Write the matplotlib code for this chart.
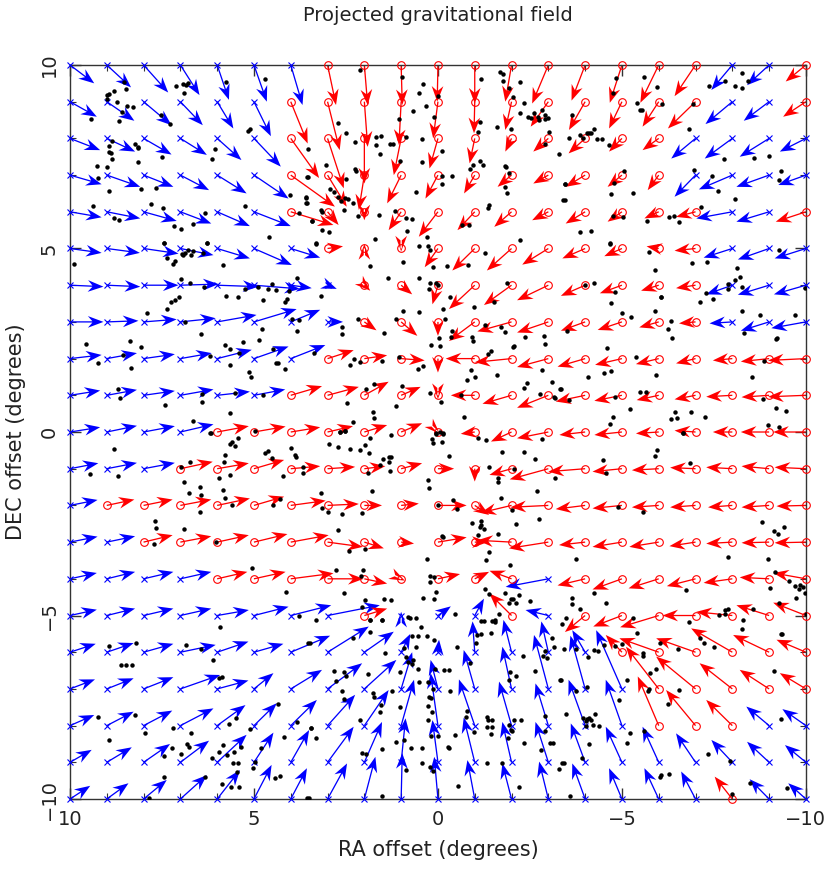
import numpy as np
import matplotlib
matplotlib.use("Agg")
import matplotlib.pyplot as plt
from matplotlib.ticker import MultipleLocator

# grid of field sample points: RA 10 -> -10 (columns), DEC 10 -> -10 (rows)
ra_grid = np.arange(10, -11, -1)
dec_grid = np.arange(10, -11, -1)

# arrow components, in degrees.
# step_right = step toward the right of the plot (RA decreasing), step_up = DEC step
step_right = [
    [0.66, 0.66, 0.67, 0.52, 0.32, 0.35, 0.32, 0.23, 0.09, 0.03, -0.02, 0.0, -0.17, -0.44, -0.37, -0.33, -0.5, -0.57, -0.57, -0.6, -0.55],
    [0.73, 0.75, 0.76, 0.61, 0.44, 0.46, 0.46, 0.33, 0.09, -0.06, -0.13, -0.02, -0.17, -0.48, -0.44, -0.35, -0.44, -0.75, -0.73, -0.69, -0.62],
    [0.82, 0.77, 0.76, 0.72, 0.66, 0.73, 0.77, 0.44, 0.0, -0.2, -0.23, -0.14, -0.17, -0.41, -0.45, -0.35, -0.44, -0.66, -0.75, -0.8, -0.71],
    [0.86, 0.91, 0.81, 0.78, 0.8, 0.94, 1.2, 0.52, -0.15, -0.38, -0.34, -0.29, -0.38, -0.41, -0.53, -0.39, -0.3, -0.57, -0.91, -0.89, -0.75],
    [0.86, 0.91, 0.9, 0.84, 0.89, 1.0, 1.16, 0.3, 0.0, -0.34, -0.52, -0.47, -0.47, -0.44, -0.53, -0.39, -0.39, -0.53, -0.98, -0.89, -0.82],
    [0.86, 0.9, 0.95, 0.9, 0.89, 1.03, 0.8, 0.42, 0.0, 0.0, -0.36, -0.61, -0.67, -0.71, -0.62, -0.48, -0.33, -0.57, -0.78, -0.85, -0.85],
    [0.91, 0.91, 0.95, 1.04, 1.12, 1.25, 0.57, 0.25, 0.16, 0.3, -0.15, -0.7, -0.75, -0.85, -0.66, -0.6, -0.48, -0.53, -0.71, -0.85, -0.87],
    [0.91, 0.86, 0.9, 0.96, 1.07, 1.16, 0.8, 0.42, 0.33, 0.44, 0.0, -0.7, -0.93, -0.85, -0.66, -0.66, -0.53, -0.45, -0.62, -0.77, -0.94],
    [0.86, 0.82, 0.85, 0.85, 0.94, 0.94, 0.94, 0.71, 0.62, 0.64, 0.0, -0.79, -1.0, -0.85, -0.75, -0.73, -0.62, -0.53, -0.53, -0.77, -1.03],
    [0.82, 0.82, 0.85, 0.9, 0.89, 0.85, 0.85, 0.85, 0.66, 0.53, 0.0, -0.65, -0.79, -0.85, -0.8, -0.75, -0.6, -0.57, -0.71, -0.75, -1.03],
    [0.82, 0.82, 0.85, 0.9, 0.86, 0.86, 0.8, 0.69, 0.62, 0.57, 0.05, -0.38, -0.56, -0.85, -0.7, -0.75, -0.62, -0.57, -0.53, -0.77, -0.89],
    [0.77, 0.82, 0.85, 0.88, 0.86, 0.82, 0.8, 0.75, 0.57, 0.57, 0.44, 0.0, -0.6, -1.05, -1.0, -0.8, -0.73, -0.69, -0.71, -0.75, -0.85],
    [0.75, 0.75, 0.79, 0.84, 0.89, 0.82, 0.95, 0.85, 0.48, 0.48, 0.78, 0.39, -0.84, -1.03, -0.8, -0.8, -0.73, -0.69, -0.66, -0.75, -0.8],
    [0.75, 0.77, 0.79, 0.84, 0.86, 0.91, 1.03, 0.96, 0.53, 0.35, 0.78, 0.35, -0.93, -1.07, -0.71, -0.8, -0.8, -0.71, -0.71, -0.75, -0.85],
    [0.73, 0.77, 0.81, 0.84, 0.82, 0.86, 1.16, 0.98, 0.62, 0.1, 0.6, 0.39, -0.6, -1.16, -0.75, -0.8, -0.82, -0.78, -0.78, -0.8, -0.89],
    [0.73, 0.77, 0.81, 0.84, 0.86, 0.94, 1.1, 1.42, 0.62, 0.0, 0.35, 0.25, -0.6, -0.62, -0.55, -0.78, -1.05, -0.9, -0.98, -0.89, -0.89],
    [0.7, 0.73, 0.81, 0.96, 0.85, 0.8, 1.07, 1.12, 0.8, 0.25, 0.03, -0.06, -0.22, -0.19, -0.35, -0.44, -1.07, -1.07, -1.12, -0.98, -0.8],
    [0.68, 0.73, 0.81, 1.08, 0.85, 0.53, 0.85, 0.94, 0.87, 0.3, -0.2, -0.3, -0.25, -0.39, -0.4, -0.7, -0.89, -1.07, -0.89, -0.8, -0.71],
    [0.66, 0.73, 0.78, 0.9, 0.77, 0.62, 0.71, 0.75, 0.66, 0.35, -0.2, -0.43, -0.34, -0.35, -0.45, -0.44, -0.57, -0.8, -0.71, -0.62, -0.64],
    [0.59, 0.68, 0.72, 0.78, 0.8, 0.53, 0.5, 0.71, 0.48, 0.12, -0.15, -0.3, -0.25, -0.35, -0.39, -0.44, -0.44, -0.53, -0.57, -0.6, -0.57],
    [0.55, 0.59, 0.63, 0.72, 0.62, 0.48, 0.44, 0.53, 0.3, 0.03, -0.1, -0.2, -0.25, -0.25, -0.35, -0.35, -0.39, -0.39, -0.48, -0.53, -0.48],
]
step_up = [
    [-0.5, -0.61, -0.75, -0.82, -0.95, -1.0, -1.09, -1.09, -1.09, -1.09, -1.0, -1.05, -1.0, -1.05, -0.97, -1.03, -1.03, -0.85, -0.68, -0.55, -0.45],
    [-0.41, -0.52, -0.64, -0.64, -0.73, -0.94, -1.14, -1.32, -1.23, -1.18, -1.0, -0.86, -0.77, -0.68, -0.77, -0.73, -0.68, -0.73, -0.61, -0.52, -0.41],
    [-0.32, -0.36, -0.44, -0.45, -0.59, -0.77, -1.08, -1.36, -1.23, -1.0, -0.82, -0.68, -0.36, -0.36, -0.41, -0.36, -0.32, -0.55, -0.55, -0.5, -0.36],
    [-0.25, -0.32, -0.32, -0.41, -0.5, -0.64, -0.86, -0.86, -0.95, -0.77, -0.64, -0.5, -0.32, -0.23, -0.32, -0.32, -0.41, -0.59, -0.39, -0.32, -0.27],
    [-0.15, -0.18, -0.25, -0.32, -0.39, -0.39, -0.36, -0.36, -0.23, -0.5, -0.68, -0.5, -0.41, -0.23, -0.32, -0.27, -0.18, -0.14, -0.18, -0.27, -0.27],
    [-0.12, -0.12, -0.14, -0.18, -0.27, -0.45, -0.25, 0.06, 0.12, -0.08, -0.51, -0.6, -0.6, -0.44, -0.27, -0.21, 0.06, -0.06, -0.25, -0.3, -0.27],
    [-0.04, -0.04, 0.0, 0.03, -0.04, -0.1, -0.08, -0.1, -0.15, -0.25, -0.52, -0.65, -0.54, -0.41, -0.29, -0.22, -0.15, -0.08, -0.25, -0.26, -0.25],
    [0.0, 0.03, 0.07, 0.1, 0.19, 0.35, 0.33, 0.0, -0.23, -0.38, -0.38, -0.52, -0.26, -0.29, -0.24, -0.22, -0.15, -0.04, -0.04, -0.24, -0.17],
    [0.1, 0.15, 0.12, 0.15, 0.24, 0.33, 0.37, 0.23, 0.09, -0.05, -0.38, 0.0, -0.1, -0.23, -0.22, -0.17, -0.15, -0.13, -0.05, -0.08, -0.05],
    [0.13, 0.15, 0.12, 0.16, 0.1, 0.16, 0.25, 0.23, 0.37, 0.23, -0.1, 0.0, -0.23, -0.34, -0.17, -0.15, -0.13, -0.11, -0.04, -0.05, -0.04],
    [0.13, 0.17, 0.16, 0.21, 0.16, 0.15, 0.13, 0.16, 0.19, 0.24, -0.05, -0.05, -0.26, -0.17, -0.08, -0.08, -0.04, 0.04, 0.0, 0.0, 0.0],
    [0.15, 0.16, 0.16, 0.19, 0.15, 0.24, 0.07, 0.05, 0.07, 0.15, 0.0, -0.35, -0.17, -0.29, -0.08, -0.08, -0.04, 0.03, 0.04, 0.07, 0.04],
    [0.15, 0.16, 0.16, 0.16, 0.19, 0.24, 0.13, 0.04, 0.0, 0.05, 0.0, -0.26, -0.2, -0.05, -0.1, -0.08, -0.05, -0.05, -0.05, -0.05, -0.02],
    [0.15, 0.16, 0.19, 0.16, 0.19, 0.22, 0.19, -0.13, -0.17, -0.04, 0.13, 0.0, 0.05, -0.17, -0.08, -0.13, -0.13, -0.11, -0.04, -0.02, -0.02],
    [0.16, 0.19, 0.19, 0.19, 0.19, 0.19, 0.15, 0.0, -0.13, -0.05, 0.13, 0.19, 0.22, -0.22, -0.18, -0.29, -0.26, -0.2, -0.11, 0.04, 0.16],
    [0.16, 0.19, 0.19, 0.19, 0.15, 0.24, 0.28, 0.28, 0.19, 0.1, 0.25, 0.46, 0.6, 0.15, -0.45, -0.3, -0.32, 0.0, 0.1, 0.28, 0.35],
    [0.23, 0.25, 0.23, 0.2, 0.29, 0.23, 0.45, 0.7, 0.56, 0.5, 0.34, 0.84, 0.88, 0.84, 0.6, 0.47, 0.38, 0.38, 0.65, 0.47, 0.34],
    [0.26, 0.29, 0.32, 0.38, 0.23, 0.43, 0.52, 0.7, 0.79, 1.0, 0.79, 1.06, 1.15, 1.47, 1.45, 1.6, 1.15, 0.88, 0.7, 0.52, 0.43],
    [0.29, 0.38, 0.41, 0.47, 0.56, 0.61, 0.7, 0.84, 0.97, 1.25, 1.43, 1.26, 1.2, 1.15, 1.25, 1.25, 1.34, 0.97, 0.7, 0.52, 0.45],
    [0.34, 0.41, 0.5, 0.59, 0.75, 0.81, 0.88, 0.97, 1.1, 1.2, 1.15, 1.22, 1.1, 1.1, 1.06, 0.97, 0.97, 0.79, 0.61, 0.56, 0.47],
    [0.36, 0.43, 0.52, 0.65, 0.79, 0.93, 0.84, 0.97, 1.15, 1.25, 1.15, 1.06, 0.97, 1.02, 0.97, 0.84, 0.84, 0.75, 0.61, 0.54, 0.43],
]
# r = circle marker / red arrow, b = cross marker / blue arrow
sense = [
    "bbbbbbbrrrrrrrrrrrbbr",
    "bbbbbbrrrrrrrrrrrrbbr",
    "bbbbbbrrrrrrrrrrrbbbb",
    "bbbbbbrrrrrrrrrrrbbbb",
    "bbbbbbrrrrrrrrrrrrbbr",
    "bbbbbbbrrrrrrrrrrrbbb",
    "bbbbbbbbrrrrrrrrrrbbb",
    "bbbbbbbbrrrrrrrrrrbbb",
    "bbbbbbbrrrrrrrrrrrrrr",
    "bbbbbbrrrrrrrrrrrrrrr",
    "bbbbrrrrrrrrrrrrrrrrr",
    "bbbrrrrrrrrrrrrrrrrrr",
    "brrrrrrrrrrrrrrrrrrrr",
    "bbrrrrrrrrrrrrrrrrrrr",
    "bbbbrrrrrrrrrbrrrrrrr",
    "bbbbbbbbrbbbrbrrrrrrr",
    "bbbbbbbbbbbbbbbrrrrrr",
    "bbbbbbbbbbbbbbbbrrrrr",
    "bbbbbbbbbbbbbbbbrrrbb",
    "bbbbbbbbbbbbbbbbbbbbb",
    "bbbbbbbbbbbbbbbbbbrbb",
]

# galaxy positions (RA offset, DEC offset), degrees
gal_ra = [
    8.52, 8.47, 8.79, 8.95, 9.0, 9.0, 8.73, 8.44, 8.3, 8.59, 8.68, 9.43, 7.12, 6.93, 6.86, 6.79, 6.91, 5.75, 4.7, 7.52,
    7.29, 5.15, 5.12, 8.86, 8.95, 8.23, 8.14, 8.15, 8.95, 8.88, 8.85, 9.27, 9.0, 8.14, 6.06, 6.14, 7.5, 9.25, 8.93, 8.07,
    7.65, 3.54, 3.52, 3.59, 3.55, 4.03, 9.38, 7.81, 7.48, 5.25, 6.32, 3.77, 3.41, 8.79, 8.68, 7.16, 6.97, 6.65, 4.59, 7.44,
    6.27,
    2.11, 0.99, 0.4, 0.51, 0.01, 0.33, 0.67, 1.05, 0.1, 2.72, 2.51, 2.25, 1.69, 1.54, 1.69, 1.3, 1.22, 0.87, 0.43, 1.57,
    1.02, 0.43, -0.1, 3.05, 2.25, 2.22, 2.49, 3.55, 2.92, 2.83, 2.72, 2.63, 2.52, 2.45, 2.31, 3.58, 3.58, 3.17, 3.15, 3.43,
    3.15, 2.97, 2.55, 2.17, 1.61, 1.17, 0.87, 0.7, 0.84, 0.59, -0.1, -0.12, -0.37, -1.15, -1.22, -0.95, -0.87, -1.83, -1.85, -1.81,
    -1.89, -1.39, -1.35, -0.65, -0.85, -1.69, -1.78, -1.17, -1.78, -2.22, -1.94, -2.03, -2.33, -2.22, -2.6, -2.46, -2.53, -2.72, -2.75, -2.82,
    -2.92, -2.99, -2.92, -1.15, -1.1, -1.6, -1.99, -3.01, -2.9, -3.28, -1.94, -2.22, 0.29, 1.7, 3.31, -3.44, -3.44,
    -8.27, -7.81, -7.36, -8.08, -8.25, -8.43, -4.85, -4.76, -5.59, -5.95, -5.4, -5.5, -5.54, -6.08, -6.93, -3.63, -6.81, -3.56, -3.86, -3.95,
    -4.04, -4.11, -4.17, -4.25, -4.31, -4.47, -4.65, -7.76, -8.59, -9.0, -6.95, -7.45, -7.61, -8.06, -9.31, -9.26, -5.05, -4.79, -4.7, -5.29,
    -3.45, -3.4, -7.14, -6.29, -6.41, -6.55, -4.77, -5.02, -5.67, -3.86, -4.17, -4.67,
    9.88, 7.44, 6.27, 7.36, 7.21, 7.15, 6.95, 6.94, 6.88, 6.8, 6.66, 6.71, 6.39, 5.83, 6.97, 6.75, 6.36, 5.75, 5.44, 5.25,
    4.9, 4.52, 4.62, 4.41, 4.05, 3.82, 4.75, 4.17, 4.11, 7.03, 7.14, 7.25, 7.35, 7.92, 6.88, 6.44, 4.79, 3.97, 3.77, 3.83,
    4.87, 5.79, 5.66, 5.3, 5.41, 5.65, 5.14, 5.09, 4.48, 4.39, 4.34, 4.16, 3.36, 6.2, 9.56, 9.25, 8.38, 8.07, 8.56, 8.33,
    8.7, 8.65, 7.43, 6.41, 6.41, 5.52, 4.75, 5.66, 6.65, 6.17,
    3.31, 1.85, 0.95, 0.52, 0.26, 0.21, 0.13, -0.24, -0.81, -1.28, 1.35, 0.52, 0.21, 0.04, -0.01, 0.24, -0.33, -0.15, -0.99, -1.51,
    -1.87, 3.19, 0.94, 0.52, -0.19, 1.13, 2.17, 2.61, 2.6, 1.46, -0.37, -0.35, -0.92, -0.95, -0.03, 0.2, -0.06, -1.28, -1.72, -1.81,
    -2.03, -2.07, -1.43, -1.36, -2.37, -2.87, -2.9, 1.06, 2.28, 2.4, 2.12, 1.51, 0.4, 0.55, -0.9, -0.79, -1.01, -1.6, -2.83, -3.1,
    -2.34, -2.43, -3.35, -2.78, -3.15, -3.19, 1.96, 1.75, 0.99, 0.22, -0.08, -0.63, 2.46, 1.15, 1.76, 1.75, -0.71, 2.31, 2.65, 2.52,
    0.05, -0.15,
    -4.67, -5.73, -6.9, -7.32, -9.26, -5.9, -8.13, -8.2, -8.08, -7.88, -7.88, -8.26, -7.29, -7.47, -7.13, -4.0, -4.25, -4.81, -4.7, -6.05,
    -6.07, -5.9, -8.27, -8.76, -9.7, -9.98, -5.0, -5.24, -6.33, -6.25, -6.37, -8.31, -9.22, -9.2, -3.5, -4.59, -5.38, -4.5, -4.7, -4.09,
    -5.92, -8.86, -8.53, -3.31, -3.55, -4.82, -5.49, -5.65, -5.23, -4.77, -4.67, -6.44, -6.88, -6.33, -6.49, -7.27, -8.83, -9.18, -9.45, -8.97,
    -9.26, -6.67,
    6.2, 8.81, 9.45, 8.7, 6.97, 6.75, 5.64, 5.59, 5.52, 5.43, 5.8, 5.82, 5.96, 5.66, 6.91, 6.77, 6.46, 6.45, 6.46, 5.84,
    5.79, 5.61, 4.7, 4.61, 4.5, 4.21, 3.98, 3.89, 3.85, 3.68, 3.68, 4.48, 4.3, 7.68, 7.65, 7.72, 6.91, 6.04, 5.06, 4.14,
    3.77, 4.97,
    2.65, 2.52, 1.85, 1.28, 2.97, 2.72, 2.38, 2.13, 1.97, 1.87, 1.49, 1.34, 1.28, 1.34, 1.58, 1.9, 1.29, 0.15, 0.14, -0.1,
    0.06, -0.05, -0.13, -0.31, -1.1, -1.31, -1.74, -2.33, -2.63, -2.83, -3.17, -1.4, -1.62, -1.63, -2.08, 0.26, 0.24, 1.78, 3.19, 3.15,
    2.99, 2.61, 2.06, -0.42, -0.52, -0.01, -1.72, -2.01, -2.7, -2.74, -0.92, -1.16, -1.17, -1.25, -1.15, -1.1, -1.63, -2.11, 2.72, 2.42,
    1.99, -0.12, -0.15, 0.31, -1.4, -1.31, -1.96, 2.77, 2.03, 2.1, 0.22, 0.11, 0.21, 0.06, 0.4, 0.12, 2.54, 1.99, 1.47, 1.28,
    2.06, 1.86, 1.52, 0.81, 0.75, 0.61, -0.46, -1.28, -1.4, -1.83, -1.98, -1.94, -2.05, -2.19, -2.11, -2.51, -1.65, -1.54, -1.26, 3.31,
    -6.67, -4.49, -4.58, -5.95, -5.9, -6.85, -4.88, -5.56, -8.81, -9.14, -9.23, -9.41, -3.75, -7.88, -8.98, -9.16, -9.55, -9.7, -9.82, -9.85,
    -9.91, -9.73, -9.98, -9.03, -6.75, -4.23, -3.64, -3.65, -3.85, -4.56, -3.47, -3.36, -5.29, -6.81, -7.65, -7.79, -7.81, -7.89, -8.29, -8.56,
    -9.26, -9.99,
    8.95, 8.2, 8.61, 8.47, 8.32, 6.84, 6.45, 6.12, 5.91, 5.94, 5.88, 9.23, 8.23, 8.93, 7.95, 7.21, 6.7, 6.82, 6.77, 6.97,
    7.45, 7.23, 5.68, 5.48, 5.11, 5.95, 5.84, 5.74, 5.55, 5.56, 5.44, 5.35, 6.14, 4.82, 4.98, 5.03, 4.36, 4.19, 3.84, 3.45,
    3.49, 7.44, 6.32, 5.86, 5.62, 5.4, 5.45, 4.43, 4.29, 7.84, 3.5,
    3.54, 2.31, 1.85, 1.52, 1.85, 1.45, 0.7, 0.55, 0.47, 0.31, 0.1, 0.92, 0.61, 0.87, 0.81, 0.7, 0.67, 0.55, 1.02, -0.51,
    -0.87, -1.04, -1.07, -1.17, -1.44, -1.16, -1.46, -1.55, -1.96, -1.94, -2.12, -2.31, -2.65, -2.85, -2.9, -2.96, -3.1, -3.15, -3.35, 2.83,
    2.54, 2.49, 2.76, 1.9, 2.61, 2.54, 1.76, 1.74, 1.26, 1.55, 1.58, 1.02, 0.52, 0.26, 0.13, -0.17, -0.3, -0.33, 0.08, 0.25,
    0.19, 0.26, 0.17, 0.26, 3.46, 3.31, 2.13, 1.15, 0.92, 0.72, 0.43, 0.19, -0.01, -0.45, -0.28, -0.3, 2.06, 1.96, 1.52, 0.43,
    0.22, 0.13, 0.88, -0.8, -0.75, -0.99, -1.33, -1.37, -1.46, -1.33, -1.46, -1.45, -2.08, -2.26, -1.92, -2.01, -1.98, -1.9, -2.35, -2.92,
    -2.92, -3.05, -3.12, -2.81, -1.33, -1.75, -3.42, -3.28, -0.54, -2.21, 1.52, 3.55,
    -3.43, -3.75, -4.25, -4.36, -4.52, -4.82, -5.0, -5.4, -5.56, -5.58, -6.04, -6.52, -7.11, -7.23, -7.5, -8.27, -9.32, -9.35, -4.09, -5.93,
    -5.75, -5.73, -5.7, -5.15, -4.93, -6.25, -6.56, -9.13, -3.75, -4.04, -3.32, -3.49, -3.95, -4.02, -4.06, -4.11, -4.15, -4.27, -4.2, -4.38,
    -4.02, -5.22, -5.61, -5.14, -4.11, -3.91, -3.38, -7.34, -7.95, -6.04, -6.06, -6.29, -8.49, -9.49, -9.32, -8.0, -3.58,
]
gal_dec = [
    9.53, 9.34, 9.29, 9.21, 9.18, 9.06, 8.99, 8.89, 8.85, 8.72, 8.47, 8.53, 9.43, 9.48, 9.45, 9.5, 9.23, 9.54, 9.63, 8.65,
    8.38, 8.21, 8.25, 7.94, 7.8, 7.84, 7.77, 7.74, 7.63, 7.59, 7.45, 7.25, 7.21, 7.35, 7.72, 7.45, 7.48, 6.93, 6.56, 6.63,
    6.66, 7.72, 6.95, 6.38, 6.23, 6.46, 6.16, 6.21, 6.09, 6.15, 5.98, 5.98, 5.75, 5.83, 5.77, 5.62, 5.53, 5.68, 5.3, 5.16,
    5.16,
    9.85, 9.68, 9.47, 9.25, 9.16, 8.89, 8.74, 8.52, 8.59, 8.41, 8.14, 7.9, 8.03, 8.06, 7.82, 7.85, 7.85, 8.05, 7.98, 7.57,
    7.39, 7.37, 7.65, 7.27, 7.16, 7.12, 6.88, 6.94, 6.61, 6.55, 6.41, 6.3, 6.37, 6.35, 6.23, 6.41, 6.23, 6.05, 6.0, 5.75,
    5.5, 5.45, 6.05, 5.88, 5.9, 6.03, 5.82, 5.81, 5.48, 6.55, 6.97, 6.75, 6.98, 7.38, 7.28, 7.27, 7.16, 7.25, 7.21, 6.68,
    6.52, 6.18, 6.09, 5.64, 5.64, 9.81, 9.75, 9.61, 9.57, 9.53, 9.38, 9.14, 8.97, 8.68, 8.68, 8.57, 8.55, 8.57, 8.5, 8.76,
    8.64, 8.55, 8.52, 8.44, 8.18, 8.32, 8.25, 8.18, 7.85, 7.57, 7.06, 5.23, 5.32, 5.25, 5.14, 6.77, 6.32,
    9.77, 9.57, 9.43, 9.43, 9.36, 9.56, 9.64, 9.23, 9.68, 9.41, 8.97, 8.77, 8.77, 8.93, 8.94, 8.64, 8.25, 8.02, 8.09, 8.02,
    8.14, 8.15, 8.16, 8.25, 7.98, 7.97, 7.82, 7.44, 7.47, 7.52, 7.14, 6.97, 6.57, 6.36, 7.11, 6.86, 7.11, 6.79, 6.48, 6.5,
    6.77, 6.32, 6.12, 5.85, 5.88, 5.72, 5.89, 5.86, 5.75, 5.44, 5.47, 5.14,
    4.58, 5.16, 5.16, 4.74, 4.58, 4.67, 4.85, 4.83, 4.87, 4.95, 4.92, 4.83, 4.87, 4.55, 4.16, 4.05, 3.96, 3.71, 3.69, 3.89,
    3.96, 4.03, 3.89, 3.87, 3.83, 4.19, 3.6, 3.54, 3.62, 3.69, 3.6, 3.55, 3.35, 3.25, 3.0, 2.67, 2.82, 3.07, 3.05, 2.76,
    2.51, 2.36, 2.25, 2.44, 2.15, 1.82, 1.63, 1.49, 2.25, 1.89, 1.89, 1.71, 2.15, 2.08, 2.39, 1.87, 2.49, 2.32, 2.09, 1.75,
    1.16, 0.92, 0.73, 1.03, 0.82, 1.05, 1.0, 0.51, 0.31, -0.02,
    5.13, 4.53, 4.62, 5.07, 5.08, 4.95, 4.49, 4.53, 4.55, 4.87, 4.19, 4.19, 4.05, 4.07, 4.01, 3.9, 3.67, 3.35, 3.4, 3.55,
    4.05, 3.71, 3.31, 3.28, 3.08, 3.07, 3.08, 2.85, 2.67, 2.71, 2.75, 2.6, 2.6, 2.49, 2.57, 2.37, 2.33, 2.92, 2.85, 2.72,
    2.31, 2.35, 2.21, 2.13, 2.6, 2.62, 2.39, 2.04, 1.98, 1.83, 1.9, 1.93, 1.8, 1.71, 1.69, 1.42, 1.49, 1.55, 1.69, 1.37,
    1.19, 1.33, 1.16, 1.04, 0.96, 0.92, 1.17, 1.31, 1.24, 1.05, 0.83, 1.0, 0.8, 0.72, 0.55, 0.37, 0.42, 0.28, 0.01, 0.04,
    -0.04, -0.02,
    5.13, 4.9, 4.6, 4.62, 4.95, 4.42, 4.48, 4.22, 4.13, 4.04, 3.9, 3.96, 3.8, 3.62, 3.53, 4.01, 4.05, 3.81, 3.51, 3.69,
    3.67, 3.31, 3.31, 3.18, 3.2, 3.92, 3.24, 3.12, 3.03, 2.8, 2.57, 2.69, 2.55, 2.53, 2.74, 2.3, 2.05, 1.62, 1.66, 1.51,
    1.56, 1.94, 1.5, 1.16, 0.87, 0.95, 1.08, 1.08, 0.62, 0.42, 0.23, 0.54, 0.55, 0.36, 0.37, 0.41, 0.89, 0.66, 0.56, 0.18,
    0.15, -0.02,
    -0.02, -0.46, -1.15, -1.2, -0.95, -0.83, -0.33, -0.26, -0.38, -0.15, -0.64, -0.82, -1.24, -1.17, -1.35, -1.67, -1.51, -1.72, -2.17, -1.58,
    -1.81, -1.99, -0.56, -0.52, -0.72, -1.2, -0.43, -0.63, -0.69, -0.96, -1.13, -1.99, -1.83, -2.43, -2.61, -3.06, -2.65, -2.99, -3.7, -4.35,
    -5.02, 0.04,
    0.0, 0.04, -0.15, -0.08, -0.34, -0.42, -0.47, -0.49, -0.35, -0.56, -0.74, -0.69, -0.69, -0.81, -0.9, -1.13, -1.05, -0.2, -0.31, -0.27,
    -0.05, 0.01, -0.05, -0.65, -0.15, -0.22, -0.54, -0.54, -0.74, -0.2, -1.24, -0.96, -1.24, -1.37, -1.01, -1.31, -1.52, -1.62, -1.67, -2.08,
    -2.17, -2.24, -2.22, -1.85, -2.09, -1.99, -1.79, -2.13, -1.62, -2.38, -2.49, -2.42, -2.54, -2.65, -2.6, -2.81, -2.78, -2.51, -2.67, -3.25,
    -3.19, -2.84, -2.86, -3.47, -3.27, -3.49, -3.61, -3.75, -3.75, -3.92, -3.92, -3.95, -4.08, -4.35, -4.52, -4.56, -4.38, -4.58, -4.55, -4.58,
    -4.78, -5.13, -5.11, -5.04, -5.06, -5.07, -4.95, -4.28, -4.42, -4.38, -4.55, -4.67, -4.54, -4.44, -4.67, -4.6, -4.95, -5.17, -5.15, -5.11,
    -0.04, -0.75, -1.13, -0.49, -0.65, -0.84, -2.05, -2.19, -2.46, -2.69, -2.78, -2.6, -3.46, -3.4, -3.45, -3.82, -4.06, -4.2, -4.28, -4.17,
    -4.22, -4.52, -4.4, -4.25, -4.31, -4.4, -4.52, -4.69, -4.83, -4.65, -5.08, -5.22, -5.08, -5.17, -4.99, -4.96, -4.85, -4.81, -5.13, -4.81,
    -4.65, -4.97,
    -5.83, -5.74, -6.36, -6.36, -6.36, -5.8, -5.91, -6.21, -5.32, -6.71, -6.68, -7.77, -7.7, -8.39, -8.19, -8.07, -8.21, -8.5, -8.57, -8.77,
    -8.83, -8.6, -7.96, -7.8, -8.09, -8.71, -8.53, -8.81, -8.73, -9.03, -9.03, -8.58, -8.87, -8.62, -9.0, -9.15, -7.42, -8.32, -7.91, -8.07,
    -5.75, -9.41, -9.39, -9.6, -9.68, -9.66, -9.25, -9.44, -9.38, -9.98, -9.98,
    -5.75, -5.62, -5.12, -5.12, -5.46, -6.03, -5.55, -5.57, -5.32, -5.55, -5.68, -5.89, -5.86, -6.14, -6.28, -6.32, -6.21, -6.46, -6.53, -5.85,
    -6.3, -5.75, -5.53, -5.51, -5.48, -5.16, -5.16, -5.12, -6.53, -6.75, -6.65, -6.09, -6.5, -6.09, -5.96, -6.16, -5.62, -5.85, -6.75, -6.5,
    -6.53, -6.65, -6.78, -6.59, -7.07, -7.27, -7.1, -7.21, -7.05, -7.44, -7.62, -7.5, -6.8, -6.82, -7.0, -6.48, -6.48, -7.07, -6.45, -7.21,
    -7.24, -7.46, -7.62, -7.86, -8.07, -8.35, -7.86, -8.45, -8.39, -8.62, -8.61, -8.27, -8.28, -8.26, -8.57, -8.62, -8.74, -8.77, -8.65, -9.01,
    -9.12, -9.23, -9.21, -7.59, -7.77, -8.18, -7.77, -7.86, -7.85, -8.05, -8.05, -8.23, -7.85, -7.85, -7.98, -8.15, -8.12, -8.35, -8.48, -7.73,
    -8.15, -8.46, -8.46, -8.66, -9.01, -9.01, -9.03, -9.19, -9.65, -9.66, -9.92, -9.98,
    -5.92, -5.92, -5.94, -5.98, -5.8, -5.83, -5.78, -5.48, -6.03, -6.09, -5.74, -5.92, -5.62, -5.74, -5.85, -5.37, -5.5, -5.5, -6.12, -6.45,
    -6.57, -7.01, -7.05, -6.75, -7.3, -7.41, -7.03, -6.51, -7.05, -6.96, -6.75, -7.68, -7.78, -7.87, -7.83, -7.78, -7.85, -7.69, -7.98, -8.01,
    -8.01, -8.19, -8.15, -8.46, -8.5, -8.89, -9.03, -8.78, -8.96, -9.39, -9.35, -9.32, -9.57, -9.71, -7.83, -9.87, -9.91,
]

RA, DEC = np.meshgrid(ra_grid, dec_grid)
dra = -np.array(step_right)   # RA axis runs right to left
ddec = np.array(step_up)
is_red = np.array([[c == "r" for c in row] for row in sense])
red = "#ff0000"
blue = "#0000ff"
arrow_cols = np.where(is_red, red, blue)

fig = plt.figure(figsize=(8.3, 8.83), dpi=100)
ax = fig.add_axes([0.0843, 0.0951, 0.8867, 0.8313])

# fixed-size notched heads, as in the original plot
ax.quiver(RA.ravel(), DEC.ravel(), dra.ravel(), ddec.ravel(),
          color=arrow_cols.ravel(), angles="xy", scale_units="xy", scale=1,
          units="dots", width=1.3, headwidth=9, headlength=12,
          headaxislength=8.5, minshaft=0.05, zorder=2, clip_on=False)

ax.plot(RA[is_red], DEC[is_red], "o", mfc="none", mec=red, ms=5.5, mew=0.8,
        zorder=3, clip_on=False)
ax.plot(RA[~is_red], DEC[~is_red], "x", color=blue, ms=5, mew=0.8,
        zorder=3, clip_on=False)

ax.plot(gal_ra, gal_dec, "o", color="black", ms=3.2, mew=0, zorder=4)

ax.set_xlim(10, -10)
ax.set_ylim(-10, 10)
ax.xaxis.set_major_locator(MultipleLocator(5))
ax.yaxis.set_major_locator(MultipleLocator(5))
ax.xaxis.set_minor_locator(MultipleLocator(1))
ax.yaxis.set_minor_locator(MultipleLocator(1))
ax.tick_params(which="both", direction="in", top=True, right=True,
               colors="#333333", labelcolor="#222222", labelsize=14)
ax.tick_params(which="major", length=8, width=1)
ax.tick_params(which="minor", length=4, width=0.8)
ax.tick_params(axis="x", pad=8)
ax.tick_params(axis="y", pad=8)
for lab in ax.get_yticklabels():
    lab.set_rotation(90)
    lab.set_va("center")
for sp in ax.spines.values():
    sp.set_color("#333333")
    sp.set_linewidth(1)

ax.set_xlabel("RA offset (degrees)", fontsize=15, color="#222222", labelpad=8)
ax.set_ylabel("DEC offset (degrees)", fontsize=15, color="#222222", labelpad=10)
ax.set_title("Projected gravitational field", fontsize=14, color="#222222", pad=32)

fig.savefig("out.png", dpi=100)
